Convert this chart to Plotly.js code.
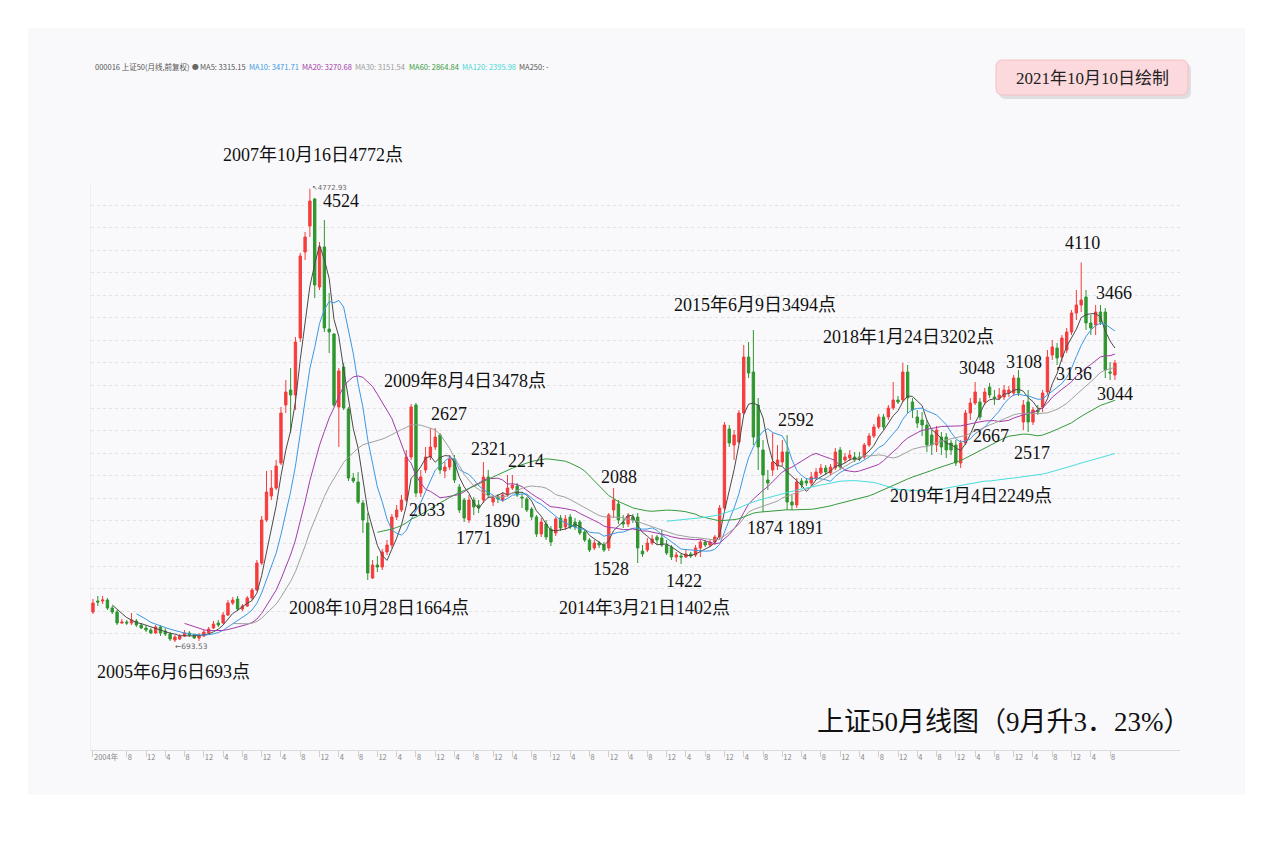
<!DOCTYPE html>
<html><head><meta charset="utf-8">
<script src="https://cdn.plot.ly/plotly-3.0.1.min.js"></script>
<style>html,body{margin:0;padding:0;background:#fff;}#chart{width:1273px;height:842px;}</style>
</head><body><div id="chart"></div>
<script>
// ---- data: SSE 50 (000016) monthly candles, Jan 2004 .. Sep 2021 (chart scale, forward adjusted) ----
const months = [];
for (let i = 0; i < 213; i++) { const y = 2004 + Math.floor(i / 12), m = i % 12 + 1; months.push(y + '-' + String(m).padStart(2, '0')); }

const open = [
964,1063,1063,1072,1000,964,865,874,865,883,
847,820,802,775,829,793,766,712,721,748,
775,757,730,748,775,820,865,865,937,1045,
1081,991,1018,1090,1162,1405,1792,2008,2080,2305,
2827,2962,2917,3430,4204,4438,4681,3889,4249,3511,
3466,2809,3169,2791,2170,2134,1945,1765,1270,1387,
1369,1504,1567,1819,1882,1972,2359,2827,2035,2242,
2359,2449,2557,2233,2269,2341,2089,1972,1792,1972,
1927,1972,2179,1954,1999,1972,2017,2080,2098,1999,
1981,1891,1819,1666,1756,1711,1675,1810,1729,1819,
1774,1774,1684,1612,1540,1585,1567,1540,1882,1936,
1774,1756,1819,1819,1513,1522,1585,1639,1630,1567,
1549,1459,1468,1459,1486,1477,1540,1594,1567,1594,
1639,1900,2611,2467,2494,2755,3259,3124,2827,2422,
2152,2242,2278,2314,2404,1954,1927,2143,2143,2125,
2170,2215,2260,2215,2260,2422,2332,2350,2359,2359,
2359,2467,2548,2629,2719,2719,2800,2872,2872,3124,
2854,2719,2692,2647,2557,2467,2539,2539,2485,2467,
2305,2485,2755,2845,2854,2854,2989,2899,2890,2899,
2935,2935,3070,2674,2854,2674,2782,2809,2944,3277,
3340,3259,3322,3484,3655,3727,3799,3565,3547,3664,
3664,3124,3097];
const high = [
1081,1108,1108,1090,1018,982,901,892,955,901,
865,847,820,847,847,820,784,757,766,802,
793,766,775,802,829,883,892,964,1072,1099,
1108,1036,1108,1180,1432,1828,2233,2242,2332,2809,
3052,3160,3439,4195,4384,4773,4690,4294,4492,3835,
3475,3160,3205,2809,2215,2224,1972,1855,1432,1468,
1531,1612,1846,1927,2017,2422,2836,2845,2242,2449,
2620,2620,2575,2314,2377,2377,2116,1990,2017,1999,
1972,2314,2242,2017,2026,2044,2197,2197,2125,2026,
1999,1909,1837,1810,1792,1738,1819,1837,1837,1846,
1810,1792,1702,1630,1612,1603,1594,1855,2080,1972,
1837,1855,1846,1855,1567,1630,1657,1657,1702,1612,
1567,1504,1495,1522,1504,1567,1612,1612,1612,1657,
1927,2674,2647,2602,2782,3367,3394,3502,2890,2512,
2242,2575,2467,2512,2557,2017,2170,2170,2170,2224,
2260,2296,2287,2296,2440,2449,2395,2422,2404,2404,
2485,2575,2656,2746,2746,2827,3034,2908,3205,3187,
2890,2782,2764,2692,2602,2638,2584,2575,2512,2512,
2512,2782,2890,3034,2890,2980,3025,2962,2980,3007,
2998,3097,3142,2872,2962,2809,2827,2962,3322,3412,
3385,3457,3520,3682,3862,4110,3862,3637,3727,3727,
3700,3214,3232];
const low = [
946,1018,1036,982,946,847,856,847,847,829,
811,784,766,766,748,748,703,694,712,739,
739,721,703,739,766,811,829,856,928,1027,
973,973,1009,1072,1153,1387,1774,1972,2062,2287,
2755,2575,2782,3394,4132,4339,3790,3862,3484,3295,
2809,2449,2782,2143,2125,1936,1675,1252,1261,1324,
1342,1477,1540,1792,1864,1954,2332,1999,1999,2215,
2332,2422,2206,2170,2242,2125,1855,1774,1765,1837,
1855,1945,1990,1918,1945,1954,1999,2062,1999,1900,
1864,1792,1639,1639,1612,1558,1648,1693,1702,1711,
1702,1657,1594,1504,1522,1540,1504,1513,1810,1756,
1720,1729,1765,1405,1459,1504,1567,1576,1549,1477,
1432,1414,1396,1450,1450,1459,1459,1549,1549,1567,
1612,1882,2449,2332,2476,2737,3070,2467,2242,1864,
2062,2188,2242,2278,1882,1882,1900,2080,2098,2098,
2152,2197,2197,2197,2242,2242,2305,2323,2314,2323,
2341,2449,2530,2611,2602,2692,2782,2836,2854,2755,
2710,2620,2548,2404,2377,2404,2377,2350,2377,2278,
2260,2467,2692,2827,2692,2827,2890,2827,2872,2872,
2899,2908,2908,2602,2584,2647,2737,2764,2917,3232,
3187,3214,3295,3457,3592,3664,3502,3457,3457,3547,
3070,3052,3052];
const close = [
1045,1054,1072,1000,964,865,874,865,892,847,
820,802,775,829,775,766,721,739,748,775,
757,730,748,784,811,856,847,937,1045,1072,
991,1018,1090,1162,1405,1792,2044,2080,2278,2755,
2944,2917,3394,4168,4339,4663,3907,4249,3520,3484,
2827,3133,2800,2170,2143,1954,1792,1315,1387,1369,
1504,1567,1819,1882,1972,2359,2809,2035,2179,2359,
2449,2539,2242,2269,2341,2152,1882,1810,1972,1909,
1900,2179,2017,1990,1981,2017,2080,2107,2017,1990,
1882,1819,1666,1774,1639,1594,1801,1720,1801,1729,
1729,1675,1612,1522,1585,1567,1522,1837,1972,1792,
1756,1828,1792,1540,1486,1585,1621,1612,1567,1495,
1459,1477,1459,1486,1468,1540,1594,1567,1594,1639,
1900,2647,2485,2557,2755,3259,3115,2539,2449,2197,
2125,2314,2332,2404,1954,1927,2134,2107,2125,2179,
2224,2260,2224,2269,2404,2269,2359,2377,2332,2341,
2467,2548,2629,2719,2629,2800,2872,2854,3124,2890,
2782,2665,2647,2467,2467,2602,2449,2422,2422,2305,
2485,2755,2845,2944,2719,2944,2917,2890,2917,2962,
2962,3070,2935,2827,2674,2782,2764,2935,3259,3349,
3250,3430,3484,3655,3727,3772,3565,3520,3664,3574,
3142,3115,3205];

const maPeriods = [5, 10, 20, 30, 60, 120];
const maColors  = ['#4a4a4a', '#3b98e3', '#a53aa8', '#a0a0a0', '#36993a', '#48dcdc'];
const legendItems = ['MA5: 3315.15', 'MA10: 3471.71', 'MA20: 3270.68', 'MA30: 3151.54', 'MA60: 2864.84', 'MA120: 2395.98', 'MA250: -'];
const legendColors = ['#555', '#3b98e3', '#a53aa8', '#9a9a9a', '#36993a', '#48d6d6', '#555'];

// ---- build ----
const idx = months.map((_, i) => i);
function movingAverage(n) {
  return close.map((_, i) => {
    if (i < n - 1) return null;
    let s = 0; for (let k = i - n + 1; k <= i; k++) s += close[k];
    return s / n;
  });
}

const traces = [{
  type: 'candlestick', x: idx, open: open, high: high, low: low, close: close,
  increasing: { line: { color: '#f53d3d', width: 1 }, fillcolor: '#f53d3d' },
  decreasing: { line: { color: '#2f962f', width: 1 }, fillcolor: '#2f962f' },
  whiskerwidth: 0, hoverinfo: 'skip', showlegend: false
}];
maPeriods.forEach((n, k) => traces.push({
  type: 'scatter', mode: 'lines', x: idx, y: movingAverage(n),
  line: { color: maColors[k], width: 1 }, hoverinfo: 'skip', showlegend: false
}));

// x ticks: 2004年, then every 4 months (8,12,4,...)
const tickvals = [0], ticktext = ['2004年'];
months.forEach((s, i) => { const mm = +s.slice(5); if (i > 3 && mm % 4 === 0) { tickvals.push(i); ticktext.push(String(mm)); } });

// plot area in pixels: left 91, right 1180, top 183, bottom 750
const L = 91, R = 1180, T = 183, B = 750;
const PX = x => (x - L) / (R - L), PY = y => (B - y) / (B - T);

// chart value scale: bottom/top of plot area
const yBottom = -278, yTop = 4825;
const yv = py => yBottom + (B - py) * (yTop - yBottom) / (B - T);
const gridVals = []; for (let k = 0; k < 20; k++) gridVals.push(yv(205 + k * 22.57));

const serif = '"Liberation Serif", "Times New Roman", "Noto Sans CJK SC", serif';
const notes = [
 ['2007年10月16日4772点', 222, 155], ['4524', 322, 201],
 ['2009年8月4日3478点', 383, 381], ['2627', 430, 414], ['2321', 470, 449], ['2214', 507, 461],
 ['2033', 408, 510], ['1890', 483, 521], ['1771', 455, 538], ['2088', 600, 477],
 ['1528', 592, 569], ['1422', 665, 581],
 ['2008年10月28日1664点', 288, 608], ['2014年3月21日1402点', 558, 608],
 ['2005年6月6日693点', 96, 672], ['2015年6月9日3494点', 673, 305],
 ['2592', 777, 420], ['1874 1891', 746, 528], ['2018年1月24日3202点', 822, 337],
 ['3048', 958, 368], ['3108', 1005, 362], ['2667', 972, 436], ['2517', 1013, 453],
 ['3136', 1055, 374], ['3466', 1095, 293], ['4110', 1064, 243], ['3044', 1096, 394],
 ['2019年1月4日2249点', 889, 496]
];
const annotations = notes.map(([t, x, y]) => ({
  text: t, xref: 'paper', yref: 'paper', x: PX(x), y: PY(y), xanchor: 'left', yanchor: 'middle',
  showarrow: false, font: { family: serif, size: 18, color: '#111' }, borderpad: 0
}));
annotations.push({ text: '上证50月线图（9月升3．23%）', xref: 'paper', yref: 'paper', x: PX(815), y: PY(722),
  xanchor: 'left', yanchor: 'middle', showarrow: false, font: { family: serif, size: 27, color: '#111' } });
annotations.push({ text: '2021年10月10日绘制', xref: 'paper', yref: 'paper', x: PX(1092), y: PY(78),
  xanchor: 'center', yanchor: 'middle', showarrow: false, font: { family: serif, size: 17, color: '#222' } });
annotations.push({ text: '↖4772.93', xref: 'paper', yref: 'paper', x: PX(310), y: PY(188),
  xanchor: 'left', yanchor: 'middle', showarrow: false, font: { family: 'DejaVu Sans, sans-serif', size: 7, color: '#666' } });
annotations.push({ text: '←693.53', xref: 'paper', yref: 'paper', x: PX(173), y: PY(646),
  xanchor: 'left', yanchor: 'middle', showarrow: false, font: { family: 'DejaVu Sans, sans-serif', size: 7.5, color: '#666' } });
// top info line
const sans = '"Noto Sans CJK SC", "Noto Sans", sans-serif';
annotations.push({ text: '000016 上证50(月线,前复权)', xref: 'paper', yref: 'paper', x: PX(93), y: PY(66),
  xanchor: 'left', yanchor: 'middle', showarrow: false, font: { family: sans, size: 7.5, color: '#555' } });
annotations.push({ text: '●', xref: 'paper', yref: 'paper', x: PX(190), y: PY(66),
  xanchor: 'left', yanchor: 'middle', showarrow: false, font: { family: 'DejaVu Sans', size: 8, color: '#666' } });
const legendX = [198, 247, 300, 353, 407, 460, 517];
legendItems.forEach((t, k) => annotations.push({ text: t, xref: 'paper', yref: 'paper', x: PX(legendX[k]), y: PY(66),
  xanchor: 'left', yanchor: 'middle', showarrow: false, font: { family: sans, size: 7.5, color: legendColors[k] } }));

function rr(x0, y0, x1, y1, r) {
  const X = PX, Y = PY;
  return `M${X(x0 + r)},${Y(y0)} L${X(x1 - r)},${Y(y0)} Q${X(x1)},${Y(y0)} ${X(x1)},${Y(y0 + r)} ` +
    `L${X(x1)},${Y(y1 - r)} Q${X(x1)},${Y(y1)} ${X(x1 - r)},${Y(y1)} L${X(x0 + r)},${Y(y1)} ` +
    `Q${X(x0)},${Y(y1)} ${X(x0)},${Y(y1 - r)} L${X(x0)},${Y(y0 + r)} Q${X(x0)},${Y(y0)} ${X(x0 + r)},${Y(y0)} Z`;
}
const shapes = [
  { type: 'rect', xref: 'paper', yref: 'paper', x0: PX(28), x1: PX(1245), y0: PY(795), y1: PY(28),
    fillcolor: '#f9f9fb', line: { width: 0 }, layer: 'below' },
  { type: 'path', xref: 'paper', yref: 'paper', path: rr(999, 63, 1191, 99, 7), fillcolor: 'rgba(0,0,0,0.10)', line: { width: 0 }, layer: 'above' },
  { type: 'path', xref: 'paper', yref: 'paper', path: rr(996, 60, 1188, 95, 7), fillcolor: '#fcd9dc', line: { color: '#f2c0c5', width: 1 }, layer: 'above' }
];

const layout = {
  width: 1273, height: 842,
  margin: { l: L, r: 1273 - R, t: T, b: 842 - B, pad: 0 },
  paper_bgcolor: '#ffffff', plot_bgcolor: 'rgba(0,0,0,0)',
  showlegend: false,
  xaxis: {
    type: 'linear', range: [-0.41, 225.5], showgrid: false, zeroline: false,
    showline: true, linecolor: '#dcdcdc', linewidth: 1,
    ticks: 'outside', ticklen: 6, tickcolor: '#cfcfcf', tickwidth: 1,
    tickmode: 'array', tickvals: tickvals, ticktext: ticktext,
    ticklabelposition: 'outside right',
    tickfont: { family: sans, size: 7.5, color: '#888' },
    rangeslider: { visible: false }, fixedrange: true
  },
  yaxis: {
    range: [yBottom, yTop], tickmode: 'array', tickvals: gridVals, showticklabels: false,
    showgrid: true, gridcolor: '#e2e2e4', griddash: 'dot', gridwidth: 1,
    zeroline: false, showline: true, linecolor: '#eeeeee', ticks: '', fixedrange: true
  },
  shapes: shapes,
  annotations: annotations
};

Plotly.newPlot('chart', traces, layout, { displayModeBar: false, staticPlot: true });
</script>
</body></html>
